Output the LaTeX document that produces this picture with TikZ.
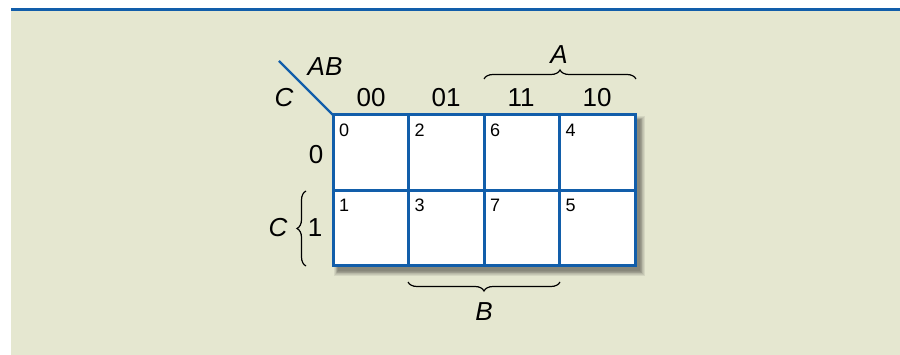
\documentclass[tikz,border=0pt]{standalone}
\usepackage{fontspec}
\setmainfont{Liberation Sans}
\usetikzlibrary{decorations.pathreplacing,calc}
\definecolor{bgc}{RGB}{229,231,208}
\definecolor{kblue}{RGB}{18,94,170}
\tikzset{
  cell/.style={draw=kblue,line width=3pt,fill=white,minimum width=75.5pt,minimum height=75.5pt,inner sep=0pt,outer sep=0pt},
  idx/.style={font=\fontsize{18}{18}\selectfont,inner sep=0pt,anchor=north west},
  lab/.style={font=\fontsize{26}{26}\selectfont,inner sep=0pt},
  ilab/.style={font=\fontsize{26}{26}\selectfont\itshape,inner sep=0pt},
  bracestyle/.style={decorate,decoration={brace,amplitude=9pt},line width=1.2pt,black}
}
\begin{document}
\begin{tikzpicture}[x=1pt,y=-1pt]
\useasboundingbox (0,0) rectangle (900,355);
\fill[bgc] (11,9) rectangle (900,355);
\draw[kblue,line width=3pt] (11,9.5) -- (900,9.5);
% shadow
\foreach \i in {0,...,6}{
  \fill[black,opacity=0.07] ($(333,115)+(5-\i*0.6,5-\i*0.6)$) rectangle ($(635,266)+(5+\i*0.8,5+\i*0.8)$);
}
% cells
\node[cell] (c0) at (370.75,152.75) {};
\node[cell] (c2) at (446.25,152.75) {};
\node[cell] (c6) at (521.75,152.75) {};
\node[cell] (c4) at (597.25,152.75) {};
\node[cell] (c1) at (370.75,228.25) {};
\node[cell] (c3) at (446.25,228.25) {};
\node[cell] (c7) at (521.75,228.25) {};
\node[cell] (c5) at (597.25,228.25) {};
\foreach \c/\t in {c0/0,c2/2,c6/6,c4/4,c1/1,c3/3,c7/7,c5/5}{
  \node[idx] (n\c) at ($(\c.north west)+(6,8.5)$) {\t};
}
% column labels
\node[lab] (h00) at (371,98) {00};
\node[lab] (h01) at (446,98) {01};
\node[lab] (h11) at (521,98) {11};
\node[lab] (h10) at (597,98) {10};
% row labels
\node[lab] (r0) at (316,155) {0};
\node[lab] (r1) at (315,228) {1};
% diagonal
\coordinate (dtop) at (279,61);
\draw[kblue,line width=2.2pt] (dtop) -- (c0.north west);
\node[ilab] (ab) at (325,67) {AB};
\node[ilab] (cc) at (284,98) {C};
% braces
\coordinate (a1) at (484,79);
\coordinate (a2) at (636,79);
\draw[bracestyle] (a1) -- (a2);
\node[ilab] (la) at (559,55) {A};
\coordinate (b1) at (560,282);
\coordinate (b2) at (408,282);
\draw[bracestyle] (b1) -- (b2);
\node[ilab] (lb) at (484,312) {B};
\coordinate (cb1) at (306,266);
\coordinate (cb2) at (306,191);
\draw[bracestyle] (cb1) -- (cb2);
\node[ilab] (lc) at (278,228) {C};
\end{tikzpicture}
\end{document}
